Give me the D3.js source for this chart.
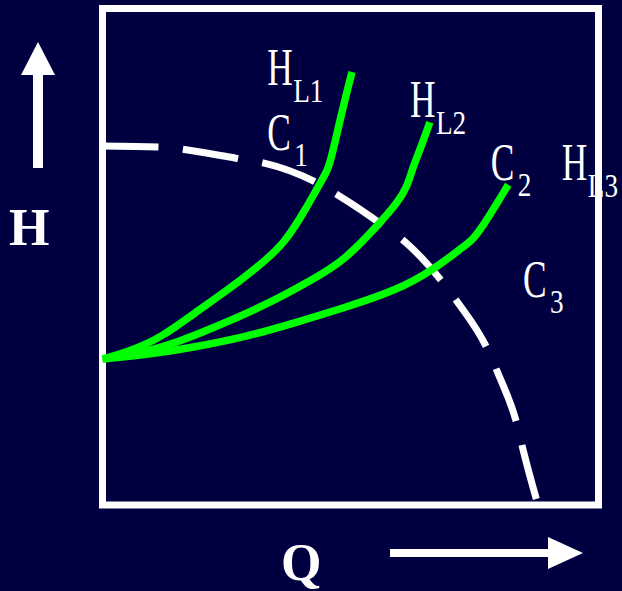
<!DOCTYPE html>
<html>
<head>
<meta charset="utf-8">
<script src="https://cdn.jsdelivr.net/npm/d3@7"></script>
<style>
  html, body { margin: 0; padding: 0; background: #000040; }
  svg { display: block; }
</style>
</head>
<body>
<div id="chart"></div>
<script>
// pump curve H(Q) and three system curves (Q, H in 0..100 units)
const pumpCurve = [
  [0, 72.3], [11.6, 72.1], [19.7, 71.1], [27.7, 69.7], [32.4, 68.9],
  [43.2, 64.9], [47.5, 62.4], [57.0, 56.0], [61.0, 53.0], [68.7, 44.7],
  [71.7, 40.7], [77.7, 31.2], [79.7, 26.6], [83.6, 16.1], [84.8, 11.1], [87.8, 0]
];

const systemL1 = [
  [0, 29.4], [5.1, 30.8], [12.0, 33.8], [18.6, 38.7], [25.3, 43.3], [32.2, 48.7],
  [36.8, 52.8], [41.2, 60.0], [43.9, 64.9], [45.5, 67.5], [46.5, 71.5],
  [47.9, 77.5], [49.1, 82.6], [50.3, 87.2]
];

const systemL2 = [
  [0, 29.4], [8.6, 30.8], [15.2, 32.8], [22.1, 35.6], [32.2, 39.9], [42.2, 45.3],
  [48.9, 49.3], [55.9, 56.8], [59.4, 60.8], [61.4, 64.0], [62.6, 68.1],
  [64.0, 71.5], [66.0, 77.1]
];

const systemL3 = [
  [0, 29.4], [8.6, 30.2], [18.6, 31.8], [28.7, 33.8], [38.8, 36.7], [49.3, 39.9],
  [59.4, 43.3], [66.6, 47.3], [72.7, 52.0], [74.7, 53.4], [77.5, 57.4], [81.8, 64.5]
];

// label text and anchor (Q, H) of each annotation
const labelMain = ["H", "C", "H", "C", "H", "C"];
const labelSub = ["L1", "1", "L2", "2", "L3", "3"];
const labelAt = [[33.2, 84.6], [33.2, 71.5], [62.0, 78.1], [78.3, 65.5], [92.6, 65.5], [84.8, 41.9]];

const axisNames = ["H", "Q"];

const width = 622, height = 591;
const box = {left: 102.5, right: 598.5, top: 8.5, bottom: 505};

const svg = d3.select("#chart").append("svg")
  .attr("width", width)
  .attr("height", height);

svg.append("rect")
  .attr("width", width)
  .attr("height", height)
  .attr("fill", "#000040");

const x = d3.scaleLinear().domain([0, 100]).range([box.left, box.right]);
const y = d3.scaleLinear().domain([0, 100]).range([box.bottom, box.top]);

const pumpLine = d3.line()
  .x(d => x(d[0]))
  .y(d => y(d[1]))
  .curve(d3.curveMonotoneX);

const systemLine = d3.line()
  .x(d => x(d[0]))
  .y(d => y(d[1]))
  .curve(d3.curveBasis);

// dashed pump curve
svg.append("path")
  .datum(pumpCurve)
  .attr("d", pumpLine)
  .attr("fill", "none")
  .attr("stroke", "#ffffff")
  .attr("stroke-width", 7)
  .attr("stroke-dasharray", "56,24.5");

// frame
svg.append("rect")
  .attr("x", box.left)
  .attr("y", box.top)
  .attr("width", box.right - box.left)
  .attr("height", box.bottom - box.top)
  .attr("fill", "none")
  .attr("stroke", "#ffffff")
  .attr("stroke-width", 7);

// system curves
svg.append("g")
  .selectAll("path")
  .data([systemL1, systemL2, systemL3])
  .join("path")
    .attr("d", systemLine)
    .attr("fill", "none")
    .attr("stroke", "#00ff00")
    .attr("stroke-width", 7.5);

// curve labels
const labels = svg.append("g")
  .selectAll("g")
  .data(labelAt)
  .join("g")
    .attr("transform", d => `translate(${x(d[0])},${y(d[1])})`)
    .attr("fill", "#ffffff")
    .attr("font-family", "'Liberation Serif', 'Times New Roman', serif");

labels.append("text")
  .attr("transform", "scale(0.68,1)")
  .attr("font-size", 52)
  .text((d, i) => labelMain[i]);

labels.append("text")
  .attr("transform", (d, i) => labelMain[i] === "H" ? "translate(26,17) scale(0.8,1)" : "translate(27,16) scale(0.8,1)")
  .attr("font-size", 34)
  .text((d, i) => labelSub[i]);

// axis arrows
const arrowY = d3.path();
arrowY.moveTo(38, 42); arrowY.lineTo(55, 75); arrowY.lineTo(43, 75); arrowY.lineTo(43, 168);
arrowY.lineTo(33, 168); arrowY.lineTo(33, 75); arrowY.lineTo(21, 75); arrowY.closePath();
svg.append("path").attr("d", arrowY.toString()).attr("fill", "#ffffff");

const arrowX = d3.path();
arrowX.moveTo(583, 553); arrowX.lineTo(548, 537); arrowX.lineTo(548, 549); arrowX.lineTo(390, 549);
arrowX.lineTo(390, 557); arrowX.lineTo(548, 557); arrowX.lineTo(548, 569); arrowX.closePath();
svg.append("path").attr("d", arrowX.toString()).attr("fill", "#ffffff");

svg.append("text")
  .attr("x", 9)
  .attr("y", 245)
  .attr("fill", "#ffffff")
  .attr("font-family", "'Liberation Serif', 'Times New Roman', serif")
  .attr("font-weight", "bold")
  .attr("font-size", 52)
  .text(axisNames[0]);

svg.append("text")
  .attr("x", 281)
  .attr("y", 580)
  .attr("fill", "#ffffff")
  .attr("font-family", "'Liberation Serif', 'Times New Roman', serif")
  .attr("font-weight", "bold")
  .attr("font-size", 52)
  .text(axisNames[1]);
</script>
</body>
</html>
